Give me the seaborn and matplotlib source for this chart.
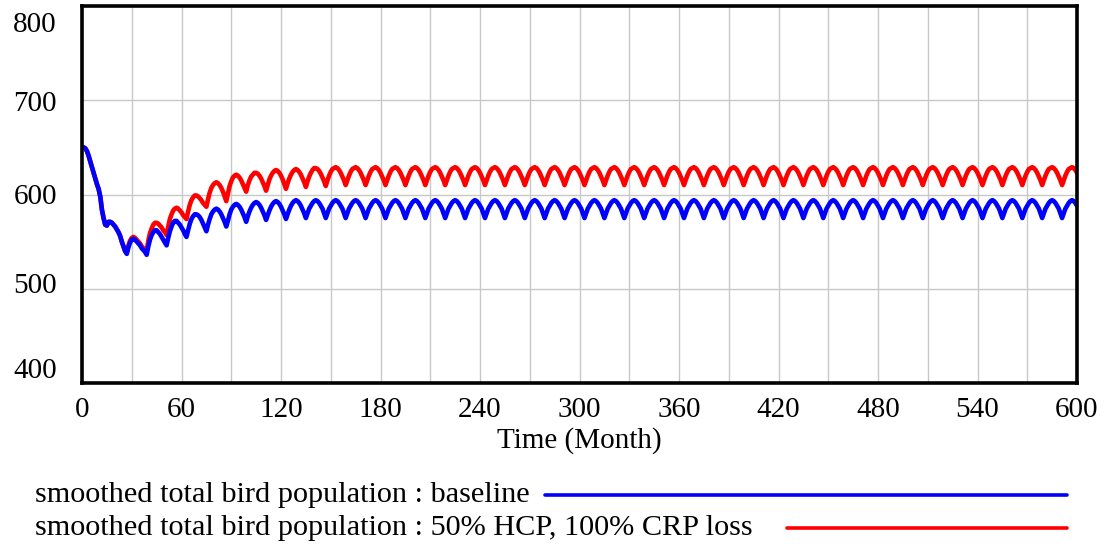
import matplotlib
matplotlib.use("Agg")
import matplotlib.pyplot as plt
from matplotlib.lines import Line2D
from matplotlib.transforms import ScaledTranslation
import numpy as np
import pandas as pd
import seaborn as sns

# ---------------- data ----------------
months = list(range(0, 601))

baseline = [
    650, 650, 649,                                                  # t=0
    646, 641, 635, 629, 623, 617, 611, 606, 598, 584, 575, 568,     # t=3
    567, 571, 571, 570, 568, 566, 563, 560, 556, 550, 545, 540,     # t=15
    537, 544, 549, 552, 553, 552, 550, 548, 546, 543, 541, 539,     # t=27
    536, 545, 552, 557, 560, 562, 562, 560, 558, 555, 552, 549,     # t=39
    546, 554, 561, 566, 570, 572, 572, 570, 568, 565, 562, 558,     # t=51
    555, 562, 569, 574, 577, 579, 579, 578, 576, 573, 569, 565,     # t=63
    561, 568, 574, 579, 582, 584, 585, 584, 582, 579, 575, 571,     # t=75
    566, 572, 579, 584, 587, 589, 590, 589, 587, 584, 580, 576,     # t=87
    571, 577, 582, 586, 589, 591, 592, 591, 589, 586, 582, 578,     # t=99
    573, 578, 583, 587, 590, 592, 593, 592, 590, 587, 583, 579,     # t=111
    574, 579, 584, 588, 591, 593, 594, 593, 591, 588, 584, 580,     # t=123
    575, 580, 585, 588, 591, 593, 594, 593, 591, 588, 585, 580,     # t=135
    575, 580, 585, 588, 591, 593, 594, 593, 591, 588, 585, 580,     # t=147
    575, 580, 585, 588, 591, 593, 594, 593, 591, 588, 585, 580,     # t=159
    575, 580, 585, 588, 591, 593, 594, 593, 591, 588, 585, 580,     # t=171
    575, 580, 585, 588, 591, 593, 594, 593, 591, 588, 585, 580,     # t=183
    575, 580, 585, 588, 591, 593, 594, 593, 591, 588, 585, 580,     # t=195
    575, 580, 585, 588, 591, 593, 594, 593, 591, 588, 585, 580,     # t=207
    575, 580, 585, 588, 591, 593, 594, 593, 591, 588, 585, 580,     # t=219
    575, 580, 585, 588, 591, 593, 594, 593, 591, 588, 585, 580,     # t=231
    575, 580, 585, 588, 591, 593, 594, 593, 591, 588, 585, 580,     # t=243
    575, 580, 585, 588, 591, 593, 594, 593, 591, 588, 585, 580,     # t=255
    575, 580, 585, 588, 591, 593, 594, 593, 591, 588, 585, 580,     # t=267
    575, 580, 585, 588, 591, 593, 594, 593, 591, 588, 585, 580,     # t=279
    575, 580, 585, 588, 591, 593, 594, 593, 591, 588, 585, 580,     # t=291
    575, 580, 585, 588, 591, 593, 594, 593, 591, 588, 585, 580,     # t=303
    575, 580, 585, 588, 591, 593, 594, 593, 591, 588, 585, 580,     # t=315
    575, 580, 585, 588, 591, 593, 594, 593, 591, 588, 585, 580,     # t=327
    575, 580, 585, 588, 591, 593, 594, 593, 591, 588, 585, 580,     # t=339
    575, 580, 585, 588, 591, 593, 594, 593, 591, 588, 585, 580,     # t=351
    575, 580, 585, 588, 591, 593, 594, 593, 591, 588, 585, 580,     # t=363
    575, 580, 585, 588, 591, 593, 594, 593, 591, 588, 585, 580,     # t=375
    575, 580, 585, 588, 591, 593, 594, 593, 591, 588, 585, 580,     # t=387
    575, 580, 585, 588, 591, 593, 594, 593, 591, 588, 585, 580,     # t=399
    575, 580, 585, 588, 591, 593, 594, 593, 591, 588, 585, 580,     # t=411
    575, 580, 585, 588, 591, 593, 594, 593, 591, 588, 585, 580,     # t=423
    575, 580, 585, 588, 591, 593, 594, 593, 591, 588, 585, 580,     # t=435
    575, 580, 585, 588, 591, 593, 594, 593, 591, 588, 585, 580,     # t=447
    575, 580, 585, 588, 591, 593, 594, 593, 591, 588, 585, 580,     # t=459
    575, 580, 585, 588, 591, 593, 594, 593, 591, 588, 585, 580,     # t=471
    575, 580, 585, 588, 591, 593, 594, 593, 591, 588, 585, 580,     # t=483
    575, 580, 585, 588, 591, 593, 594, 593, 591, 588, 585, 580,     # t=495
    575, 580, 585, 588, 591, 593, 594, 593, 591, 588, 585, 580,     # t=507
    575, 580, 585, 588, 591, 593, 594, 593, 591, 588, 585, 580,     # t=519
    575, 580, 585, 588, 591, 593, 594, 593, 591, 588, 585, 580,     # t=531
    575, 580, 585, 588, 591, 593, 594, 593, 591, 588, 585, 580,     # t=543
    575, 580, 585, 588, 591, 593, 594, 593, 591, 588, 585, 580,     # t=555
    575, 580, 585, 588, 591, 593, 594, 593, 591, 588, 585, 580,     # t=567
    575, 580, 585, 588, 591, 593, 594, 593, 591, 588, 585, 580,     # t=579
    575, 580, 585, 588, 591, 593, 594, 593, 591, 588,               # t=591
]

hcp_crp_loss = [
    650, 650, 649,                                                  # t=0
    646, 641, 635, 629, 623, 617, 611, 606, 598, 584, 575, 568,     # t=3
    567, 571, 571, 570, 568, 566, 563, 560, 556, 550, 545, 540,     # t=15
    538, 546, 551, 554, 555, 554, 552, 550, 548, 545, 543, 541,     # t=27
    540, 551, 559, 564, 568, 570, 570, 569, 567, 565, 562, 560,     # t=39
    557, 566, 574, 579, 583, 585, 586, 585, 583, 581, 578, 576,     # t=51
    574, 582, 589, 594, 597, 599, 599, 598, 596, 594, 591, 589,     # t=63
    587, 595, 602, 607, 610, 612, 613, 612, 610, 607, 603, 598,     # t=75
    593, 601, 609, 614, 618, 620, 621, 620, 618, 615, 611, 607,     # t=87
    603, 610, 615, 619, 621, 623, 623, 622, 620, 617, 613, 609,     # t=99
    604, 610, 616, 620, 623, 625, 626, 625, 623, 620, 616, 611,     # t=111
    606, 612, 617, 621, 624, 626, 627, 626, 624, 621, 617, 613,     # t=123
    608, 614, 619, 623, 626, 628, 628, 627, 625, 622, 618, 614,     # t=135
    609, 615, 620, 624, 627, 628, 629, 628, 626, 623, 619, 615,     # t=147
    610, 615, 620, 624, 627, 628, 629, 628, 626, 623, 619, 615,     # t=159
    610, 615, 620, 624, 627, 628, 629, 628, 626, 623, 619, 615,     # t=171
    610, 615, 620, 624, 627, 628, 629, 628, 626, 623, 619, 615,     # t=183
    610, 615, 620, 624, 627, 628, 629, 628, 626, 623, 619, 615,     # t=195
    610, 615, 620, 624, 627, 628, 629, 628, 626, 623, 619, 615,     # t=207
    610, 615, 620, 624, 627, 628, 629, 628, 626, 623, 619, 615,     # t=219
    610, 615, 620, 624, 627, 628, 629, 628, 626, 623, 619, 615,     # t=231
    610, 615, 620, 624, 627, 628, 629, 628, 626, 623, 619, 615,     # t=243
    610, 615, 620, 624, 627, 628, 629, 628, 626, 623, 619, 615,     # t=255
    610, 615, 620, 624, 627, 628, 629, 628, 626, 623, 619, 615,     # t=267
    610, 615, 620, 624, 627, 628, 629, 628, 626, 623, 619, 615,     # t=279
    610, 615, 620, 624, 627, 628, 629, 628, 626, 623, 619, 615,     # t=291
    610, 615, 620, 624, 627, 628, 629, 628, 626, 623, 619, 615,     # t=303
    610, 615, 620, 624, 627, 628, 629, 628, 626, 623, 619, 615,     # t=315
    610, 615, 620, 624, 627, 628, 629, 628, 626, 623, 619, 615,     # t=327
    610, 615, 620, 624, 627, 628, 629, 628, 626, 623, 619, 615,     # t=339
    610, 615, 620, 624, 627, 628, 629, 628, 626, 623, 619, 615,     # t=351
    610, 615, 620, 624, 627, 628, 629, 628, 626, 623, 619, 615,     # t=363
    610, 615, 620, 624, 627, 628, 629, 628, 626, 623, 619, 615,     # t=375
    610, 615, 620, 624, 627, 628, 629, 628, 626, 623, 619, 615,     # t=387
    610, 615, 620, 624, 627, 628, 629, 628, 626, 623, 619, 615,     # t=399
    610, 615, 620, 624, 627, 628, 629, 628, 626, 623, 619, 615,     # t=411
    610, 615, 620, 624, 627, 628, 629, 628, 626, 623, 619, 615,     # t=423
    610, 615, 620, 624, 627, 628, 629, 628, 626, 623, 619, 615,     # t=435
    610, 615, 620, 624, 627, 628, 629, 628, 626, 623, 619, 615,     # t=447
    610, 615, 620, 624, 627, 628, 629, 628, 626, 623, 619, 615,     # t=459
    610, 615, 620, 624, 627, 628, 629, 628, 626, 623, 619, 615,     # t=471
    610, 615, 620, 624, 627, 628, 629, 628, 626, 623, 619, 615,     # t=483
    610, 615, 620, 624, 627, 628, 629, 628, 626, 623, 619, 615,     # t=495
    610, 615, 620, 624, 627, 628, 629, 628, 626, 623, 619, 615,     # t=507
    610, 615, 620, 624, 627, 628, 629, 628, 626, 623, 619, 615,     # t=519
    610, 615, 620, 624, 627, 628, 629, 628, 626, 623, 619, 615,     # t=531
    610, 615, 620, 624, 627, 628, 629, 628, 626, 623, 619, 615,     # t=543
    610, 615, 620, 624, 627, 628, 629, 628, 626, 623, 619, 615,     # t=555
    610, 615, 620, 624, 627, 628, 629, 628, 626, 623, 619, 615,     # t=567
    610, 615, 620, 624, 627, 628, 629, 628, 626, 623, 619, 615,     # t=579
    610, 615, 620, 624, 627, 628, 629, 628, 626, 623,               # t=591
]

series_names = [
    "smoothed total bird population : baseline",
    "smoothed total bird population : 50% HCP, 100% CRP loss",
]
series_colors = ["#0000FF", "#FF0000"]
x_ticks = [0, 60, 120, 180, 240, 300, 360, 420, 480, 540, 600]
x_minor = [30, 90, 150, 210, 270, 330, 390, 450, 510, 570]
y_ticks = [400, 500, 600, 700, 800]
x_label = "Time (Month)"

n = min(len(months), len(baseline), len(hcp_crp_loss))
df = pd.concat([
    pd.DataFrame({"Time": months[:n], "Value": baseline[:n], "Series": series_names[0]}),
    pd.DataFrame({"Time": months[:n], "Value": hcp_crp_loss[:n], "Series": series_names[1]}),
], ignore_index=True)

# ---------------- style ----------------
sns.set_style("white")
plt.rcParams["font.family"] = ["Liberation Serif", "DejaVu Serif"]
plt.rcParams["text.color"] = "black"
plt.rcParams["axes.labelcolor"] = "black"

W, H = 1107, 546
fig = plt.figure(figsize=(W / 100, H / 100), dpi=100)
ax = fig.add_axes([82 / W, 1 - 383 / H, (1077 - 82) / W, (383 - 6) / H])

sns.lineplot(data=df, x="Time", y="Value", hue="Series",
             palette=dict(zip(series_names, series_colors)),
             hue_order=series_names[::-1], linewidth=3.3, legend=False,
             ax=ax, zorder=3)

ax.set_xlim(0, 600)
ax.set_ylim(400, 800)
ax.set_xticks(x_ticks)
ax.set_xticks(x_minor, minor=True)
ax.set_yticks(y_ticks)
ax.grid(True, which="both", color="#C8C8C8", linewidth=1.0)
ax.set_axisbelow(True)
for s in ax.spines.values():
    s.set_visible(True)
    s.set_color("black")
    s.set_linewidth(2.6)
    s.set_zorder(4)

ax.tick_params(axis="both", which="both", length=0, labelsize=21,
               colors="black", labelcolor="black")
ax.tick_params(axis="x", pad=10)
ax.tick_params(axis="y", pad=18)

# vertical nudges (pixels, + = up) so labels sit as in the reference
y_offsets = {400: 15, 500: 6, 600: 0, 700: -1, 800: -16}
for tick_val, lab in zip(y_ticks, ax.get_yticklabels()):
    dy = y_offsets.get(tick_val, 0)
    lab.set_transform(lab.get_transform() + ScaledTranslation(0, dy / 100, fig.dpi_scale_trans))

ax.set_xlabel(x_label, fontsize=21, labelpad=3, color="black")
ax.set_ylabel("")

# ---------------- legend (drawn below the chart) ----------------
rows_y = [495, 528]
line_x0 = [545, 787]
for name, col, yy, x0 in zip(series_names, series_colors, rows_y, line_x0):
    fig.text(35 / W, 1 - yy / H, name, ha="left", va="center", fontsize=21.8, color="black")
    fig.add_artist(Line2D([x0 / W, 1067 / W], [1 - yy / H, 1 - yy / H],
                          transform=fig.transFigure, color=col, linewidth=2.6))

fig.savefig("out.png", dpi=100)
